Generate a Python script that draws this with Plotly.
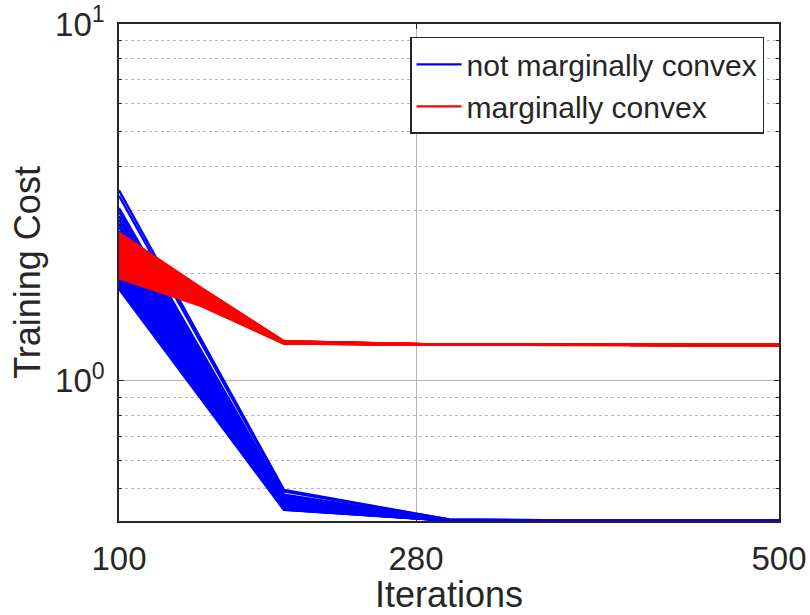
import plotly.graph_objects as go

# ---------------- data ----------------
blue_x = [100, 200, 300, 400, 500]
blue_100 = [3.42, 3.30, 3.05, 2.98, 2.90, 2.83, 2.76, 2.70, 2.63, 2.57, 2.51, 2.45, 2.40, 2.35, 2.30,
            2.25, 2.20, 2.16, 2.12, 2.08, 2.04, 2.00, 1.97, 1.94, 1.91, 1.88, 1.85, 1.83, 1.81]
blue_200 = [0.495, 0.490, 0.480, 0.476, 0.472, 0.469, 0.466, 0.463, 0.461, 0.459, 0.457, 0.455, 0.453, 0.451, 0.449,
            0.448, 0.447, 0.446, 0.445, 0.444, 0.443, 0.442, 0.441, 0.440, 0.439, 0.438, 0.437, 0.436, 0.435]
blue_300 = [0.409, 0.409, 0.408, 0.408, 0.408, 0.408, 0.407, 0.407, 0.407, 0.407, 0.407, 0.407, 0.406, 0.406, 0.406,
            0.406, 0.406, 0.406, 0.406, 0.406, 0.406, 0.406, 0.406, 0.406, 0.406, 0.406, 0.406, 0.406, 0.406]
blue_400 = [0.4058] * 29
blue_500 = [0.4058] * 29

red_x = [100, 150, 200, 300, 400, 500]
red_100 = [2.60, 2.56, 2.53, 2.49, 2.46, 2.43, 2.40, 2.37, 2.34, 2.31, 2.28, 2.25, 2.22,
           2.19, 2.16, 2.13, 2.10, 2.08, 2.06, 2.04, 2.02, 2.00, 1.98, 1.96, 1.94]
red_150 = [1.82, 1.81, 1.80, 1.79, 1.78, 1.77, 1.76, 1.75, 1.74, 1.73, 1.72, 1.71, 1.70,
           1.69, 1.68, 1.67, 1.66, 1.66, 1.65, 1.65, 1.64, 1.64, 1.63, 1.63, 1.62]
red_200 = [1.292, 1.291, 1.290, 1.289, 1.288, 1.287, 1.286, 1.285, 1.284, 1.283, 1.282, 1.281, 1.280,
           1.279, 1.278, 1.278, 1.277, 1.277, 1.276, 1.276, 1.275, 1.274, 1.273, 1.273, 1.272]
red_300 = [1.263] * 25
red_400 = [1.262] * 25
red_500 = [1.261] * 25

x_ticks = [100, 280, 500]
x_ticktext = ["100", "280", "500"]
y_ticks = [1, 10]
y_ticktext = ["10<sup>0</sup>", "10<sup>1</sup>"]
y_minor = [0.5, 0.6, 0.7, 0.8, 0.9, 2, 3, 4, 5, 6, 7, 8, 9]

series_names = ["not marginally convex", "marginally convex"]

# ---------------- figure ----------------
TXT = "#262626"
FONT = "Liberation Sans, Arial, Helvetica, sans-serif"
fig = go.Figure()

blue_rows = list(zip(blue_100, blue_200, blue_300, blue_400, blue_500))
for i, ys in enumerate(blue_rows):
    fig.add_trace(go.Scatter(x=blue_x, y=list(ys), mode="lines",
                             line=dict(color="#0000ff", width=2.4),
                             name=series_names[0], legendgroup="b",
                             showlegend=(i == 0), hoverinfo="skip"))

red_rows = list(zip(red_100, red_150, red_200, red_300, red_400, red_500))
for i, ys in enumerate(red_rows):
    fig.add_trace(go.Scatter(x=red_x, y=list(ys), mode="lines",
                             line=dict(color="#ff0000", width=2.4),
                             name=series_names[1], legendgroup="r",
                             showlegend=(i == 0), hoverinfo="skip"))

fig.update_layout(
    width=810, height=615,
    margin=dict(l=119, r=31, t=24, b=94),
    paper_bgcolor="white", plot_bgcolor="white",
    font=dict(family=FONT, color=TXT, size=33),
    showlegend=True,
    legend=dict(x=0.441, y=0.974, xanchor="left", yanchor="top",
                bgcolor="white", bordercolor=TXT, borderwidth=1.5,
                font=dict(size=30, color=TXT, family=FONT),
                tracegroupgap=0, itemwidth=45),
    xaxis=dict(range=[100, 500], tickvals=x_ticks, ticktext=x_ticktext,
               showgrid=True, gridcolor="#b5b5b5", gridwidth=1,
               showline=True, linecolor=TXT, linewidth=1.5, mirror="ticks",
               ticks="inside", ticklen=5, tickcolor=TXT,
               zeroline=False, layer="below traces", automargin=False,
               ticklabelstandoff=8,
               tickfont=dict(size=33, color=TXT),
               title=dict(text="Iterations", font=dict(size=36, color=TXT), standoff=0)),
    yaxis=dict(type="log", range=[-0.3925, 1], tickvals=y_ticks, ticktext=y_ticktext,
               showgrid=True, gridcolor="#b5b5b5", gridwidth=1,
               showline=True, linecolor=TXT, linewidth=1.5, mirror="ticks",
               ticks="inside", ticklen=5, tickcolor=TXT,
               zeroline=False, layer="below traces", automargin=False,
               ticklabelstandoff=6,
               tickfont=dict(size=33, color=TXT),
               minor=dict(tickvals=y_minor, showgrid=True, gridcolor="#b8b8b8",
                          griddash="dot", gridwidth=1, ticks="inside", ticklen=3,
                          tickcolor=TXT),
               title=dict(text="Training Cost", font=dict(size=36, color=TXT), standoff=3)),
)

fig.write_html("out.html", config={"displayModeBar": False},
               post_script="document.body.style.margin='0';document.body.style.overflow='hidden';")
